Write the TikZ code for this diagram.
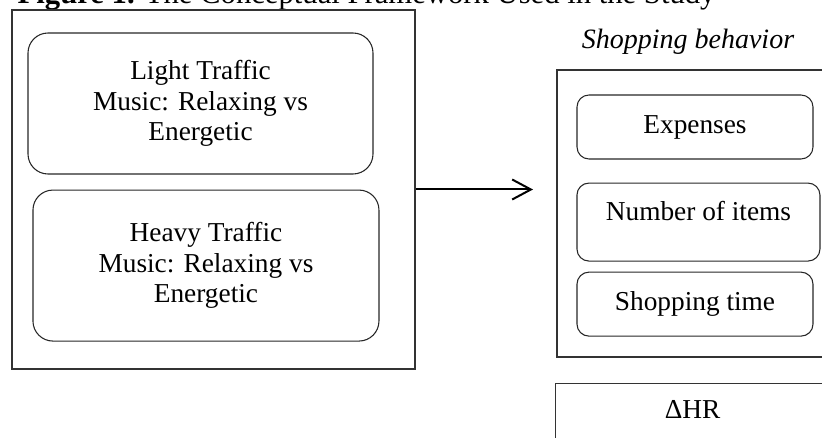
\documentclass[tikz,border=0pt]{standalone}
\usepackage{fontspec}
\setmainfont{Liberation Serif}
\usetikzlibrary{arrows.meta,positioning}

\begin{document}
\begin{tikzpicture}[
    x=0.75pt, y=-0.75pt,
    frame/.style={rectangle, draw=black!80, line width=1pt},
    cond/.style={rectangle, draw=black!85, rounded corners=15pt, line width=0.8pt, align=center, font=\fontsize{20.5}{23}\selectfont},
    measure/.style={cond, rounded corners=9pt, minimum width=177pt, minimum height=48pt},
    flow/.style={-{Straight Barb[length=14pt, width=15pt]}, line width=1.5pt},
]
    \useasboundingbox (0,0) rectangle (822,438);
    \clip (0,0) rectangle (822,438);

    \node[anchor=base west, font=\fontsize{23}{28}\selectfont] (title) at (13,3.5) {\textbf{Figure 1.} The Conceptual Framework Used in the Study};

    % conditions
    \node[frame, minimum width=302.25pt, minimum height=269.25pt] (conditions) at (213.5,189.5) {};
    \node[cond, minimum width=258.75pt, minimum height=105.75pt] (light) at (200.5,103.5) {Light Traffic\\Music: Relaxing vs\\Energetic};
    \node[cond, minimum width=259.5pt, minimum height=113.25pt, below=11.25pt of light, xshift=4.1pt] (heavy) {Heavy Traffic\\Music: Relaxing vs\\Energetic};

    % outcomes
    \node[font=\fontsize{21}{26}\selectfont\itshape] (behlabel) at (688,42) {Shopping behavior};
    \node[frame, minimum width=208.5pt, minimum height=215.25pt] (behavior) at (696,213.5) {};
    \node[measure] (expenses) at (695,127) {Expenses};
    \node[measure, minimum width=182.25pt, minimum height=58.5pt, text height=14pt, text depth=17pt, below=17.25pt of expenses, xshift=2.6pt] (items) {Number of items};
    \node[measure, below=7.5pt of items, xshift=-2.6pt] (shoptime) {Shopping time};
    \node[frame, anchor=north west, minimum width=205.5pt, text depth=40pt, inner ysep=12.75pt, font=\fontsize{20.5}{23}\selectfont] (hr) at (555,383) {ΔHR};

    \coordinate (tip) at (533,189.5);
    \draw[flow] (conditions.east) -- (tip);
\end{tikzpicture}
\end{document}
